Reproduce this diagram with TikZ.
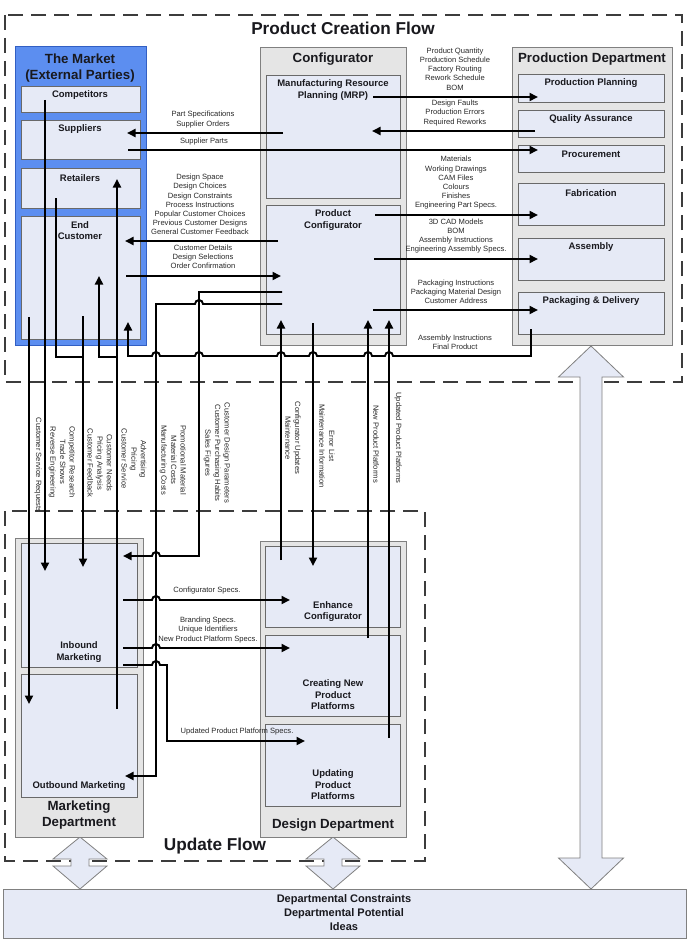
\documentclass[tikz,border=0pt]{standalone}
\usepackage{fontspec}
\setmainfont{Liberation Sans}
\usetikzlibrary{arrows.meta}
\definecolor{innerc}{RGB}{230,234,246}
\definecolor{outerg}{RGB}{229,229,229}
\definecolor{greyb}{RGB}{128,128,128}
\definecolor{edgeg}{RGB}{105,105,105}
\definecolor{mblue}{RGB}{92,142,240}
\definecolor{mblueb}{RGB}{50,95,195}
\definecolor{dashg}{RGB}{60,60,60}
\definecolor{txt}{RGB}{40,40,40}
\definecolor{ttxt}{RGB}{25,25,30}
\newcommand{\mkbox}[6]{\node[#2, anchor=north west, minimum width={(#5-#3)*1pt}, minimum height={(#6-#4)*1pt}] (#1) at (#3,#4) {};}
\begin{document}
\begin{tikzpicture}[x=1pt,y=-1pt,
  innerbox/.style={draw=edgeg, fill=innerc, line width=0.8pt, outer sep=0pt, inner sep=0pt},
  greybox/.style={draw=greyb, fill=outerg, line width=0.8pt, outer sep=0pt, inner sep=0pt},
  bluebox/.style={draw=mblueb, fill=mblue, line width=1pt, outer sep=0pt, inner sep=0pt},
  bottombox/.style={draw=greyb, fill=innerc, line width=0.8pt, outer sep=0pt, inner sep=0pt},
  conn/.style={line width=1.9pt, black},
  arr/.style={conn, -{Triangle[length=8.5pt,width=8pt]}},
  lbl/.style={font=\fontsize{7.6}{9.2}\selectfont, align=center, text=txt, inner sep=0pt},
  rlbl/.style={font=\fontsize{7.6}{9.6}\selectfont, align=center, text=txt, inner sep=0pt, rotate=-90},
  ttl/.style={font=\bfseries\fontsize{9.5}{11.5}\selectfont, align=center, text=ttxt, inner sep=0pt},
  bigttl/.style={font=\bfseries\fontsize{11}{14}\selectfont, align=center, text=ttxt, inner sep=0pt},
  dept/.style={font=\bfseries\fontsize{13.3}{15.5}\selectfont, align=center, text=ttxt, inner sep=0pt},
  flow/.style={font=\bfseries\fontsize{17.2}{20}\selectfont, text=ttxt, inner sep=0pt},
  dashbox/.style={draw=dashg, line width=1.2pt, dash pattern=on 15pt off 8pt},
  bigarrow/.style={draw=greyb, fill=innerc, line width=0.8pt}]
\useasboundingbox (0,0) rectangle (689,952);

% dashed flow regions
\draw[dashbox] (5,15) rectangle (682,382);
\draw[dashbox] (5,511) rectangle (425,861);

% big double arrows
\draw[bigarrow] (591,346) -- (623.5,377) -- (602,377) -- (602,858) -- (623.5,858) -- (591,889) -- (558.5,858) -- (580,858) -- (580,377) -- (558.5,377) -- cycle;
\draw[bigarrow] (80,837) -- (107,859) -- (89,859) -- (89,866) -- (107,866) -- (80,889) -- (53,866) -- (71,866) -- (71,859) -- (53,859) -- cycle;
\draw[bigarrow] (333,837) -- (360,859) -- (342,859) -- (342,866) -- (360,866) -- (333,889) -- (306,866) -- (324,866) -- (324,859) -- (306,859) -- cycle;

% outer boxes
\mkbox{market}{bluebox}{15}{47}{146}{345}
\mkbox{config}{greybox}{260}{47}{406}{345}
\mkbox{prod}{greybox}{512}{47}{672}{345}
\mkbox{mktdept}{greybox}{15}{538}{143}{837}
\mkbox{design}{greybox}{260}{541}{406}{837}
\mkbox{bottom}{bottombox}{3}{889}{686}{938}

% market inner
\mkbox{comp}{innerbox}{21}{86}{140}{112}
\mkbox{supp}{innerbox}{21}{120}{140}{159}
\mkbox{ret}{innerbox}{21}{168}{140}{208}
\mkbox{endc}{innerbox}{21}{216}{140}{339}
% configurator inner
\mkbox{mrp}{innerbox}{266}{75}{400}{198}
\mkbox{pconf}{innerbox}{266}{205}{400}{334}
% production inner
\mkbox{pp}{innerbox}{518}{74}{664}{102}
\mkbox{qa}{innerbox}{518}{110}{664}{137}
\mkbox{proc}{innerbox}{518}{145}{664}{172}
\mkbox{fab}{innerbox}{518}{183}{664}{225}
\mkbox{asm}{innerbox}{518}{238}{664}{280}
\mkbox{pack}{innerbox}{518}{292}{664}{334}
% marketing inner
\mkbox{inb}{innerbox}{21}{543}{137}{667}
\mkbox{outb}{innerbox}{21}{674}{137}{797}
% design inner
\mkbox{enh}{innerbox}{265}{546}{400}{627}
\mkbox{cnp}{innerbox}{265}{635}{400}{716}
\mkbox{upp}{innerbox}{265}{724}{400}{806}

% titles
\node[flow] (tPCF) at (343,28) {Product Creation Flow};
\node[flow] (tUF) at (215,846) {Update Flow};
\node[dept] (tMkt) at (80,68) {The Market\\(External Parties)};
\node[dept] (tCfg) at (333,59) {Configurator};
\node[dept] (tProd) at (592,59) {Production Department};
\node[dept] (tMD) at (79,815) {Marketing\\Department};
\node[dept] (tDD) at (333,825) {Design Department};

\node[ttl] (tComp) at (80,95.5) {Competitors};
\node[ttl] (tSup) at (80,129.5) {Suppliers};
\node[ttl] (tRet) at (80,178.5) {Retailers};
\node[ttl] (tEnd) at (80,230.5) {End\\Customer};
\node[ttl] (tMRP) at (333,90) {Manufacturing Resource\\Planning (MRP)};
\node[ttl] (tPC) at (333,220) {Product\\Configurator};
\node[ttl] (tPP) at (591,83.5) {Production Planning};
\node[ttl] (tQA) at (591,119.5) {Quality Assurance};
\node[ttl] (tProc) at (591,154.5) {Procurement};
\node[ttl] (tFab) at (591,193.5) {Fabrication};
\node[ttl] (tAsm) at (591,247.5) {Assembly};
\node[ttl] (tPack) at (591,301.5) {Packaging \& Delivery};
\node[ttl] (tIn) at (79,652) {Inbound\\Marketing};
\node[ttl] (tOut) at (79,786.5) {Outbound Marketing};
\node[ttl] (tEnh) at (333,611.5) {Enhance\\Configurator};
\node[ttl] (tCNP) at (333,695) {Creating New\\Product\\Platforms};
\node[ttl] (tUPP) at (333,785) {Updating\\Product\\Platforms};
\node[bigttl] (tBot) at (344,913) {Departmental Constraints\\Departmental Potential\\Ideas};

% connector end points
\coordinate (mrpA) at (373,97);   \coordinate (ppIn) at (538,97);
\coordinate (qaOut) at (535,131); \coordinate (mrpIn) at (372,131);
\coordinate (mrpB) at (283,133);  \coordinate (supIn) at (127,133);
\coordinate (supOut) at (128,150); \coordinate (procIn) at (538,150);
\coordinate (pcA) at (278,241);   \coordinate (ecIn) at (125,241);
\coordinate (ecOut) at (126,276); \coordinate (pcIn) at (281,276);
\coordinate (pcB) at (375,215);   \coordinate (fabIn) at (538,215);
\coordinate (pcC) at (374,259);   \coordinate (asmIn) at (538,259);
\coordinate (pcD) at (373,310);   \coordinate (packIn) at (538,310);
\coordinate (packOut) at (531,329); \coordinate (ecIn2) at (128,322);
\coordinate (pcE) at (282,292);   \coordinate (inbA) at (123,556);
\coordinate (pcF) at (282,304);   \coordinate (outbA) at (125,776);
\coordinate (enhOut) at (281,560); \coordinate (pcInG) at (281,320);
\coordinate (pcH) at (313,323);   \coordinate (enhIn) at (313,566);
\coordinate (cnpOut) at (368,638); \coordinate (pcInI) at (368,320);
\coordinate (uppOut) at (389,738); \coordinate (pcInJ) at (389,320);
\coordinate (compOut) at (45,100); \coordinate (inbB) at (45,571);
\coordinate (retOut) at (56,198);  \coordinate (ecOut2) at (83,316); \coordinate (inbC) at (83,567);
\coordinate (outbOut) at (117,709); \coordinate (retIn) at (117,179); \coordinate (ecIn3) at (99,276);
\coordinate (ecOut3) at (29,317); \coordinate (outbB) at (29,704);
\coordinate (inbD) at (123,600); \coordinate (enhIn2) at (290,600);
\coordinate (inbE) at (123,648); \coordinate (cnpIn) at (290,648);
\coordinate (inbF) at (123,665); \coordinate (uppIn) at (305,741);

% connectors, top
\draw[arr] (mrpA) -- (ppIn);
\draw[arr] (qaOut) -- (mrpIn);
\draw[arr] (mrpB) -- (supIn);
\draw[arr] (supOut) -- (procIn);
\draw[arr] (pcA) -- (ecIn);
\draw[arr] (ecOut) -- (pcIn);
\draw[arr] (pcB) -- (fabIn);
\draw[arr] (pcC) -- (asmIn);
\draw[arr] (pcD) -- (packIn);
\draw[arr] (packOut) -- (531,356) -- (393,356) arc[start angle=0,end angle=-180,radius=4]
  -- (372,356) arc[start angle=0,end angle=-180,radius=4]
  -- (317,356) arc[start angle=0,end angle=-180,radius=4]
  -- (285,356) arc[start angle=0,end angle=-180,radius=4]
  -- (203,356) arc[start angle=0,end angle=-180,radius=4]
  -- (160,356) arc[start angle=0,end angle=-180,radius=4]
  -- (128,356) -- (ecIn2);
\draw[arr] (pcE) -- (199,292) -- (199,556) -- (160,556) arc[start angle=0,end angle=-180,radius=4] -- (inbA);
\draw[arr] (pcF) -- (203,304) arc[start angle=0,end angle=-180,radius=4] -- (156,304) -- (156,776) -- (outbA);
\draw[arr] (enhOut) -- (pcInG);
\draw[arr] (pcH) -- (enhIn);
\draw[arr] (cnpOut) -- (pcInI);
\draw[arr] (uppOut) -- (pcInJ);
\draw[arr] (compOut) -- (inbB);
\draw[conn] (retOut) -- (56,357) -- (83,357);
\draw[arr] (ecOut2) -- (inbC);
\draw[arr] (outbOut) -- (retIn);
\draw[arr] (117,357) -- (99,357) -- (ecIn3);
\draw[arr] (ecOut3) -- (outbB);
% update flow connectors
\draw[arr] (inbD) -- (152,600) arc[start angle=180,end angle=360,radius=4] -- (enhIn2);
\draw[arr] (inbE) -- (152,648) arc[start angle=180,end angle=360,radius=4] -- (cnpIn);
\draw[arr] (inbF) -- (152,665) arc[start angle=180,end angle=360,radius=4] -- (167,665) -- (167,741) -- (uppIn);

% horizontal labels
\node[lbl] (lPS) at (203,119.5) {Part Specifications\\Supplier Orders};
\node[lbl] (lSP) at (204,142) {Supplier Parts};
\node[lbl] (lDS) at (200,204.5) {Design Space\\Design Choices\\Design Constraints\\Process Instructions\\Popular Customer Choices\\Previous Customer Designs\\General Customer Feedback};
\node[lbl] (lCD) at (203,257) {Customer Details\\Design Selections\\Order Confirmation};
\node[lbl] (lPQ) at (455,69) {Product Quantity\\Production Schedule\\Factory Routing\\Rework Schedule\\BOM};
\node[lbl] (lDF) at (455,113) {Design Faults\\Production Errors\\Required Reworks};
\node[lbl] (lMat) at (456,183) {Materials\\Working Drawings\\CAM Files\\Colours\\Finishes\\Engineering Part Specs.};
\node[lbl] (lCAD) at (456,236) {3D CAD Models\\BOM\\Assembly Instructions\\Engineering Assembly Specs.};
\node[lbl] (lPI) at (456,291.5) {Packaging Instructions\\Packaging Material Design\\Customer Address};
\node[lbl] (lAI) at (455,342) {Assembly Instructions\\Final Product};
\node[lbl] (lCS) at (207,591) {Configurator Specs.};
\node[lbl] (lBS) at (208,630) {Branding Specs.\\Unique Identifiers\\New Product Platform Specs.};
\node[lbl] (lUPS) at (237,732) {Updated Product Platform Specs.};

% rotated labels
\node[rlbl] (rA) at (38,465) {Customer Service Requests};
\node[rlbl] (rB) at (62,462) {Competitor Research\\Trade Shows\\Reverse Engineering};
\node[rlbl] (rC) at (100,463) {Customer Needs\\Pricing Analysis\\Customer Feedback};
\node[rlbl] (rD) at (134,459) {Advertising\\Pricing\\Customer Service};
\node[rlbl] (rE) at (173,460) {Promotional Material\\Material Costs\\Manufacturing Costs};
\node[rlbl] (rF) at (217,453) {Customer Design Parameters\\Customer Purchasing Habits\\Sales Figures};
\node[rlbl] (rG) at (293,438) {Configurator Updates\\Maintenance};
\node[rlbl] (rH) at (327,446) {Error List\\Maintenance Information};
\node[rlbl] (rI) at (376,444) {New Product Platforms};
\node[rlbl] (rJ) at (398,438) {Updated Product Platforms};
\end{tikzpicture}
\end{document}
